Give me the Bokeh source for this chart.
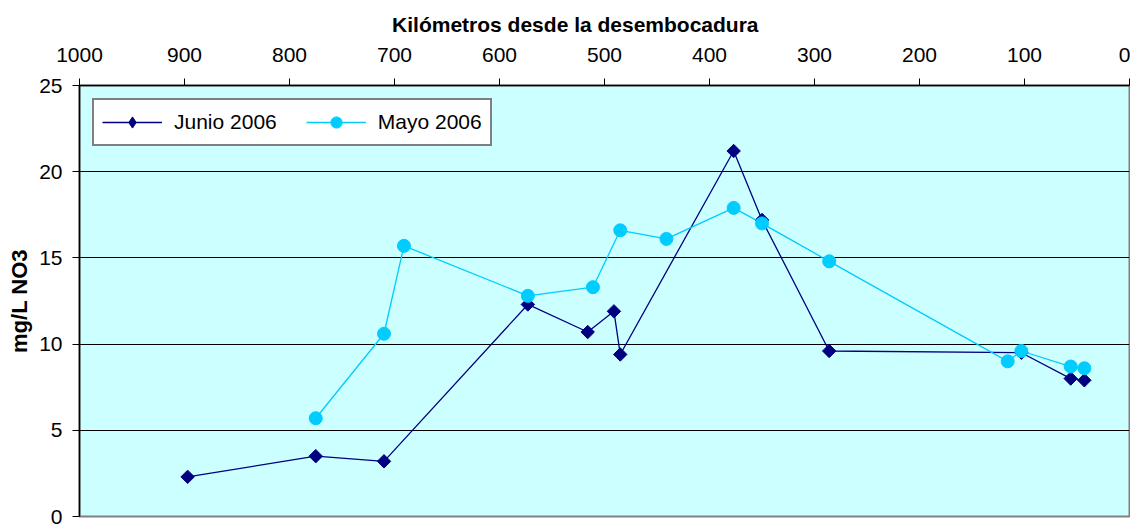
import numpy as np
from bokeh.plotting import figure
from bokeh.models import Range1d, FixedTicker, Legend, LegendItem, ColumnDataSource
from bokeh.embed import file_html
from bokeh.resources import INLINE

km_junio = [897, 775, 710, 573, 516, 491, 485, 377, 350, 286, 103, 56, 43]
no3_junio = [2.3, 3.5, 3.2, 12.3, 10.7, 11.9, 9.4, 21.2, 17.2, 9.6, 9.5, 8.0, 7.9]
km_mayo = [775, 710, 691, 573, 511, 485, 441, 377, 350, 286, 116, 103, 56, 43]
no3_mayo = [5.7, 10.6, 15.7, 12.8, 13.3, 16.6, 16.1, 17.9, 17.0, 14.8, 9.0, 9.6, 8.7, 8.6]
x_ticks = list(range(0, 1001, 100))
y_ticks = [0, 5, 10, 15, 20, 25]
grid_ticks = [5, 10, 15, 20]
series_names = ["Junio 2006", "Mayo 2006"]
x_title = "Kilómetros desde la desembocadura"
y_title = "mg/L NO3"

FONT = "Liberation Sans"
FS = "21px"

p = figure(width=1130, height=527, output_backend="svg", toolbar_location=None,
           x_range=Range1d(1000, 0), y_range=Range1d(0, 25),
           x_axis_location="above", min_border_left=79, min_border_right=1,
           min_border_top=85, min_border_bottom=11)
p.background_fill_color = "#CCFFFF"
p.border_fill_color = "white"
p.outline_line_color = "#808080"
p.outline_line_width = 2

p.xgrid.visible = False
p.ygrid.ticker = FixedTicker(ticks=grid_ticks)
p.ygrid.grid_line_color = "black"
p.ygrid.grid_line_width = 1

xa = p.xaxis[0]
xa.ticker = FixedTicker(ticks=x_ticks)
# trailing no-break spaces shift the (centred) title a little to the left, as in the original
xa.axis_label = x_title + "\u00a0" * 10
ya = p.yaxis[0]
ya.ticker = FixedTicker(ticks=y_ticks)
ya.axis_label = y_title
for ax in (xa, ya):
    ax.major_label_text_font = FONT
    ax.major_label_text_font_size = FS
    ax.major_label_text_color = "black"
    ax.axis_label_text_font = FONT
    ax.axis_label_text_font_size = FS
    ax.axis_label_text_font_style = "bold"
    ax.axis_label_text_color = "black"
    ax.axis_line_color = "black"
    ax.axis_line_width = 1.5
    ax.major_tick_line_color = "black"
    ax.major_tick_line_width = 1
    ax.major_tick_out = 7
    ax.major_tick_in = 0
    ax.minor_tick_line_color = None
ya.axis_label_text_font_size = "22px"
xa.major_label_standoff = 17
xa.axis_label_standoff = 9
ya.major_label_standoff = 10
ya.axis_label_standoff = 4

src_j = ColumnDataSource(dict(x=km_junio, y=no3_junio))
src_m = ColumnDataSource(dict(x=km_mayo, y=no3_mayo))

lj = p.line("x", "y", source=src_j, line_color="#000080", line_width=1.3)
sj = p.scatter("x", "y", source=src_j, marker="square", angle=np.pi / 4, size=9.5,
               fill_color="#000080", line_color="#000080")
# legend-only marker (legend glyphs are drawn unrotated)
sj_leg = p.scatter("x", "y", source=src_j, marker="diamond", visible=False,
                   fill_color="#000080", line_color="#000080")
lm = p.line("x", "y", source=src_m, line_color="#00CCFF", line_width=1.3)
sm = p.scatter("x", "y", source=src_m, marker="circle", size=13,
               fill_color="#00CCFF", line_color="#00CCFF")

legend = Legend(items=[LegendItem(label=series_names[0], renderers=[lj, sj_leg]),
                       LegendItem(label=series_names[1], renderers=[lm, sm])],
                location="top_left", orientation="horizontal", click_policy="none")
legend.margin = 13
legend.padding = 8
legend.spacing = 29
legend.glyph_width = 60
legend.glyph_height = 28
legend.label_standoff = 12
legend.label_text_font = FONT
legend.label_text_font_size = FS
legend.label_text_color = "black"
legend.border_line_color = "black"
legend.border_line_width = 2
legend.background_fill_color = "white"
legend.background_fill_alpha = 1
p.add_layout(legend)

open("out.html", "w").write(file_html(p, INLINE))
